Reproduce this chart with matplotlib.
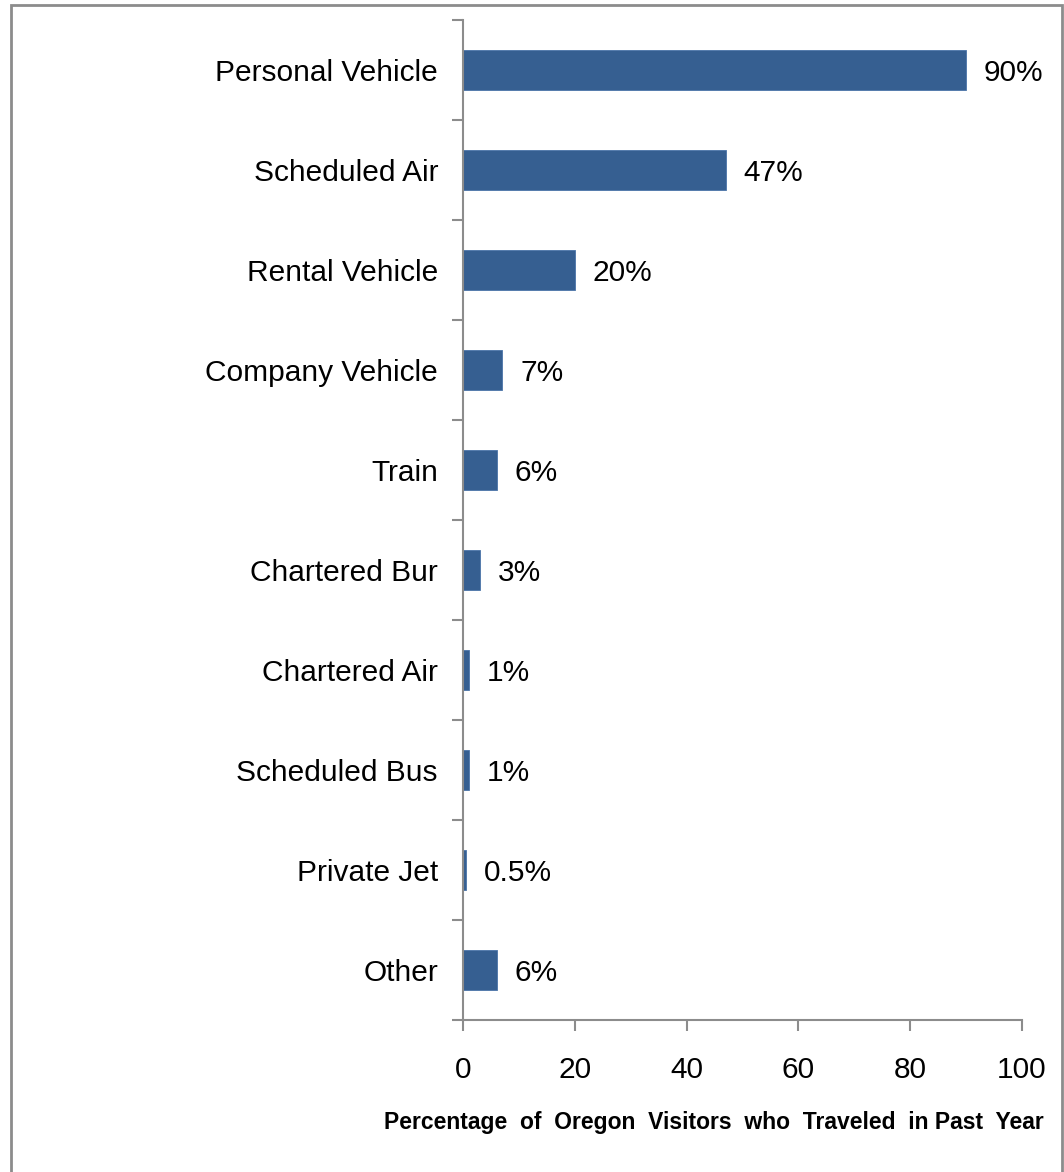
import matplotlib.pyplot as plt
import matplotlib.patches as patches
import numpy as np

plt.rcParams['font.family'] = ['Liberation Sans', 'DejaVu Sans']

modos = ['Personal Vehicle', 'Scheduled Air', 'Rental Vehicle', 'Company Vehicle',
         'Train', 'Chartered Bur', 'Chartered Air', 'Scheduled Bus', 'Private Jet', 'Other']
valores = [90, 47, 20, 7, 6, 3, 1, 1, 0.5, 6]
rotulos = ['90%', '47%', '20%', '7%', '6%', '3%', '1%', '1%', '0.5%', '6%']
xticks = [0, 20, 40, 60, 80, 100]

cinza = '#8c8c8c'
azul = '#365f91'
fs = 21.5

fig = plt.figure(figsize=(10.64, 11.72), dpi=100)
ax = fig.add_axes([463 / 1064, 1 - 1020 / 1172, 559 / 1064, 1000 / 1172])

pos = np.arange(len(modos))
ax.barh(pos, valores, height=0.4, color=azul, edgecolor='#4a74a8', linewidth=0.6)

# rótulos de valor à direita de cada barra
for p, v, r in zip(pos, valores, rotulos):
    ax.text(v + 3.2, p, r, va='center_baseline', ha='left', fontsize=fs)

ax.set_xlim(0, 100)
ax.set_ylim(len(modos) - 0.5, -0.5)

ax.set_xticks(xticks)
ax.set_xticklabels([str(t) for t in xticks], fontsize=fs)
ax.tick_params(axis='x', direction='out', length=8, width=1.5, color=cinza, pad=18)

# ticks maiores nas divisões, nomes como ticks menores no centro
ax.set_yticks(np.arange(-0.5, len(modos), 1.0))
ax.set_yticklabels([])
ax.set_yticks(pos, minor=True)
ax.set_yticklabels(modos, minor=True, fontsize=fs)
ax.tick_params(axis='y', which='major', direction='out', length=8, width=1.5, color=cinza)
ax.tick_params(axis='y', which='minor', length=0, pad=18)

for s in ['top', 'right']:
    ax.spines[s].set_visible(False)
for s in ['left', 'bottom']:
    ax.spines[s].set_color(cinza)
    ax.spines[s].set_linewidth(1.5)

fig.text(714 / 1064, 1 - 1123 / 1172, 'Percentage  of  Oregon  Visitors  who  Traveled  in Past  Year',
         ha='center', va='center', fontsize=16.5, fontweight='bold')

# moldura externa
borda = patches.Rectangle((10.5 / 1064, -0.05), (1061.5 - 10.5) / 1064, 1.05 - 4.5 / 1172,
                          transform=fig.transFigure, fill=False, edgecolor=cinza, linewidth=2)
fig.patches.append(borda)

fig.savefig('out.png', dpi=100, facecolor='white')
